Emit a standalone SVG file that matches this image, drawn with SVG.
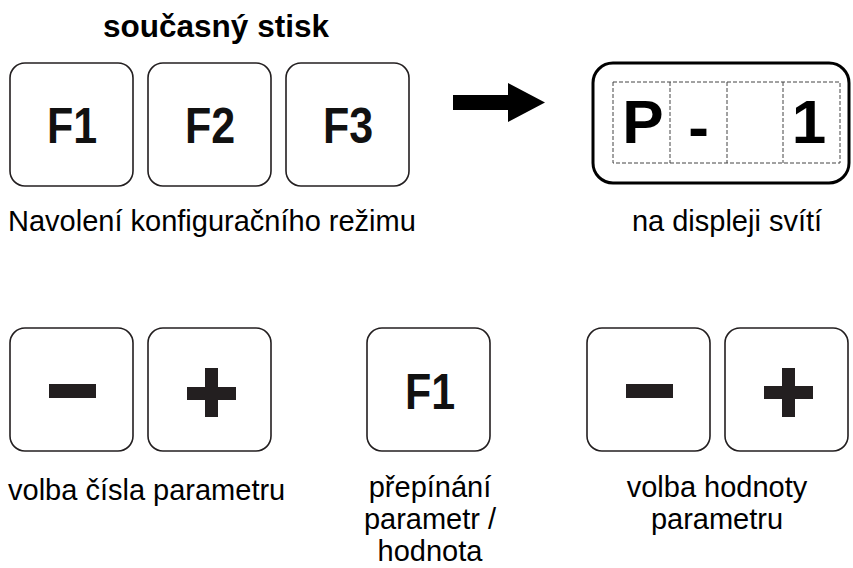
<svg xmlns="http://www.w3.org/2000/svg" width="853" height="568" viewBox="0 0 853 568">
<style>
.key{fill:#fff;stroke:#231f20;stroke-width:1.6}
.kl{font-family:"Liberation Sans",Arial,sans-serif;font-weight:bold;font-size:50px;fill:#111;text-anchor:middle}
.lbl{font-family:"Liberation Sans",Arial,sans-serif;font-size:29px;fill:#000}
.mid{text-anchor:middle}
.sym{fill:#231f20}
.dig{font-family:"Liberation Sans",Arial,sans-serif;font-weight:bold;font-size:62px;fill:#000;text-anchor:middle}
.cell{fill:none;stroke:#444;stroke-width:1;stroke-dasharray:4 2}
</style>
<rect width="853" height="568" fill="#fff"/>
<text x="216" y="37" font-family="Liberation Sans,Arial,sans-serif" font-weight="bold" font-size="31.5" text-anchor="middle">současný stisk</text>
<g id="keyF1"><rect class="key" x="10" y="63" width="123" height="123" rx="15"/><text class="kl" transform="translate(72,143) scale(0.86,1)">F1</text></g>
<g id="keyF2"><rect class="key" x="148" y="63" width="123" height="123" rx="15"/><text class="kl" transform="translate(210,143) scale(0.86,1)">F2</text></g>
<g id="keyF3"><rect class="key" x="286" y="63" width="123" height="123" rx="15"/><text class="kl" transform="translate(348,143) scale(0.86,1)">F3</text></g>
<g id="connectors"><polygon points="453,95 508,95 508,83 545,102.5 508,122 508,110 453,110" fill="#000"/></g>
<g id="display">
<rect x="593" y="63" width="256" height="120" rx="20" fill="#fff" stroke="#000" stroke-width="3"/>
<rect class="cell" x="613" y="82" width="227" height="81"/>
<line class="cell" x1="670" y1="82" x2="670" y2="163"/>
<line class="cell" x1="727" y1="82" x2="727" y2="163"/>
<line class="cell" x1="783" y1="82" x2="783" y2="163"/>
<text class="dig" x="643" y="143">P</text>
<text class="dig" x="698.5" y="148" font-size="94">-</text>
<text class="dig" x="809" y="143">1</text>
</g>
<text class="lbl" x="8" y="231">Navolení konfiguračního režimu</text>
<text class="lbl mid" x="727" y="231">na displeji svítí</text>
<g id="keyMinus1"><rect class="key" x="10" y="328" width="123" height="123" rx="15"/><rect class="sym" x="49" y="384" width="47" height="14"/></g>
<g id="keyPlus1"><rect class="key" x="148" y="328" width="123" height="123" rx="15"/><rect class="sym" x="187" y="387" width="49" height="13"/><rect class="sym" x="205" y="368" width="13" height="49"/></g>
<g id="keyF1b"><rect class="key" x="367" y="328" width="123" height="123" rx="15"/><text class="kl" transform="translate(430,409) scale(0.86,1)">F1</text></g>
<g id="keyMinus2"><rect class="key" x="587" y="328" width="123" height="123" rx="15"/><rect class="sym" x="626" y="384" width="47" height="14"/></g>
<g id="keyPlus2"><rect class="key" x="725" y="328" width="123" height="123" rx="15"/><rect class="sym" x="764" y="386" width="49" height="13"/><rect class="sym" x="782" y="368" width="13" height="49"/></g>
<text class="lbl" x="8" y="500">volba čísla parametru</text>
<text class="lbl mid" x="430" y="497">přepínání</text>
<text class="lbl mid" x="430" y="529">parametr /</text>
<text class="lbl mid" x="430" y="561">hodnota</text>
<text class="lbl mid" x="717" y="497">volba hodnoty</text>
<text class="lbl mid" x="717" y="529">parametru</text>
</svg>
